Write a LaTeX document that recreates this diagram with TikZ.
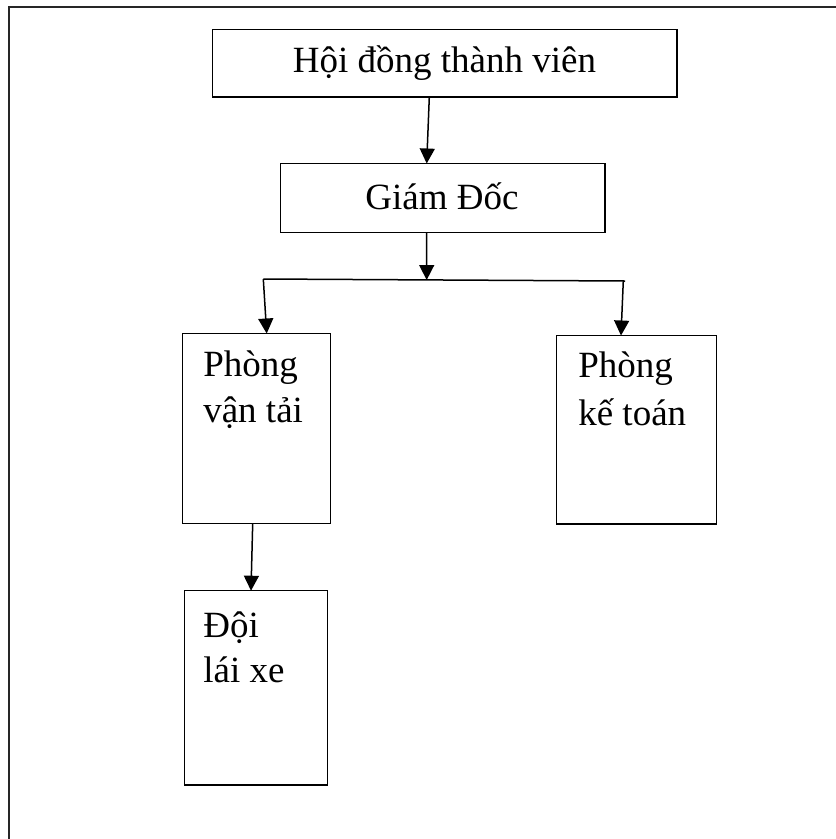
\documentclass[tikz,border=0pt]{standalone}
\usepackage{fontspec}
\setmainfont{Liberation Serif}
\usetikzlibrary{arrows.meta}
\begin{document}
\begin{tikzpicture}[x=1pt,y=-1pt,
  box/.style={draw=black,line width=1.5pt,inner sep=0pt,outer sep=0pt},
  lbl/.style={inner sep=0pt,outer sep=0pt,font=\fontsize{37}{44}\selectfont},
  conn/.style={line width=1.5pt,draw=black},
  arr/.style={conn,-{Triangle[width=15pt,length=15pt]}}]
\useasboundingbox (0,0) rectangle (836,839);
% outer frame (only top and left edges visible)
\draw[line width=2pt,black!85] (836,6.5) -- (8.5,6.5) -- (8.5,839);
% boxes
\node[box,minimum width=464.5pt,minimum height=67.5pt] (b1) at (444.75,63.25) {};
\node[box,minimum width=324.3pt,minimum height=68.8pt] (b2) at (442.85,197.9) {};
\node[box,minimum width=148pt,minimum height=189.8pt] (b3) at (256.7,428.4) {};
\node[box,minimum width=160pt,minimum height=188.5pt] (b4) at (636.7,429.75) {};
\node[box,minimum width=142.8pt,minimum height=194.3pt] (b5) at (255.9,687.85) {};
% texts
\node[lbl,anchor=base] (t1) at (444.5,72.7) {Hội đồng thành viên};
\node[lbl,anchor=base] (t2) at (442,209.3) {Giám Đốc};
\node[lbl,anchor=base west] (t3a) at (203.3,376.5) {Phòng};
\node[lbl,anchor=base west] (t3b) at (203.3,422) {vận tải};
\node[lbl,anchor=base west] (t4a) at (578.3,377) {Phòng};
\node[lbl,anchor=base west] (t4b) at (578.3,425) {kế toán};
\node[lbl,anchor=base west] (t5a) at (203.3,637) {Đội};
\node[lbl,anchor=base west] (t5b) at (203.3,682) {lái xe};
% connectors
\coordinate (hl) at (263.3,279);
\coordinate (hm) at (426.7,280);
\coordinate (hr) at (625,281);
\coordinate (hrd) at (623.3,281);
\draw[arr] ([xshift=-15.45pt]b1.south) -- ([xshift=-16.15pt]b2.north);
\draw[arr] ([xshift=-16.15pt]b2.south) -- (hm);
\draw[conn] (hl) -- (hr);
\draw[arr] (hl) -- ([xshift=10pt]b3.north);
\draw[arr] (hrd) -- ([xshift=-15.7pt]b4.north);
\draw[arr] ([xshift=-4pt]b3.south) -- ([xshift=-4.9pt]b5.north);
\end{tikzpicture}
\end{document}
